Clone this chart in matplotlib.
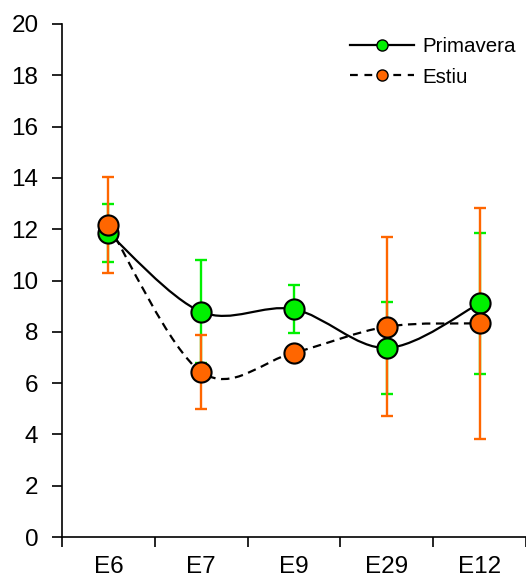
import numpy as np
import matplotlib.pyplot as plt
from matplotlib.path import Path
from matplotlib.patches import PathPatch
from matplotlib.lines import Line2D

plt.rcParams['font.family'] = ['Liberation Sans', 'DejaVu Sans']

# Data
sites = ["E6", "E7", "E9", "E29", "E12"]
primavera = [11.85, 8.78, 8.88, 7.37, 9.11]
primavera_err = [1.13, 2.0, 0.94, 1.78, 2.75]
estiu = [12.16, 6.43, 7.19, 8.2, 8.33]
estiu_err = [1.87, 1.45, 0.2, 3.48, 4.5]

GREEN = '#00F000'
ORANGE = '#FF6600'


def smooth_path(xs, ys):
    # Excel-like smoothed line: Catmull-Rom segments as cubic Beziers
    pts = np.column_stack([xs, ys]).astype(float)
    p = np.vstack([pts[0], pts, pts[-1]])
    verts = [pts[0]]
    codes = [Path.MOVETO]
    for i in range(len(pts) - 1):
        p0, p1, p2, p3 = p[i], p[i + 1], p[i + 2], p[i + 3]
        verts += [p1 + (p2 - p0) / 6, p2 - (p3 - p1) / 6, p2]
        codes += [Path.CURVE4] * 3
    return Path(verts, codes)


x = np.arange(len(sites))

fig = plt.figure(figsize=(5.26, 5.83), dpi=100)
ax = fig.add_axes([62 / 526, 46 / 583, 1 - 62 / 526, 513 / 583])

# lines
ax.add_patch(PathPatch(smooth_path(x, primavera), fill=False, color='black',
                       lw=1.6, zorder=2))
ax.add_patch(PathPatch(smooth_path(x, estiu), fill=False, color='black',
                       lw=1.6, linestyle=(0, (3.8, 2.5)), zorder=2))

# error bars
ax.errorbar(x, primavera, yerr=primavera_err, fmt='none', ecolor=GREEN,
            elinewidth=1.7, capsize=4.3, capthick=1.7, zorder=3)
ax.errorbar(x, estiu, yerr=estiu_err, fmt='none', ecolor=ORANGE,
            elinewidth=1.7, capsize=4.3, capthick=1.7, zorder=3)

# markers
ax.plot(x, primavera, 'o', ms=14.5, mfc=GREEN, mec='black', mew=1.5, zorder=4)
ax.plot(x, estiu, 'o', ms=14.5, mfc=ORANGE, mec='black', mew=1.5, zorder=5)

ax.set_ylim(0, 20)
ax.set_yticks(np.arange(0, 21, 2))
ax.set_xlim(-0.5, -0.5 + 464 / 93.5)
ax.set_xticks(x)
ax.set_xticklabels(sites)
ax.set_xticks(np.arange(-0.5, len(sites), 1), minor=True)
ax.tick_params(axis='x', which='major', length=0, pad=14, labelsize=17.5)
ax.tick_params(axis='x', which='minor', length=7, width=1.2, direction='out')
ax.tick_params(axis='y', length=7, width=1.2, direction='out', pad=10,
               labelsize=17.5)
for s in ['top', 'right']:
    ax.spines[s].set_visible(False)
for s in ['left', 'bottom']:
    ax.spines[s].set_linewidth(1.2)

handles = [
    Line2D([], [], color='black', lw=1.6, marker='o', ms=8, mfc=GREEN,
           mec='black', mew=1),
    Line2D([], [], color='black', lw=1.6, ls=(0, (3.5, 3)), marker='o', ms=8,
           mfc=ORANGE, mec='black', mew=1),
]
fig.legend(handles, ['Primavera', 'Estiu'], loc='upper left',
           bbox_to_anchor=(340 / 526, 1 - 27 / 583), frameon=False,
           fontsize=14.8, handlelength=3.1, handletextpad=0.4,
           labelspacing=0.55, borderpad=0)

fig.savefig('out.png', dpi=100)
